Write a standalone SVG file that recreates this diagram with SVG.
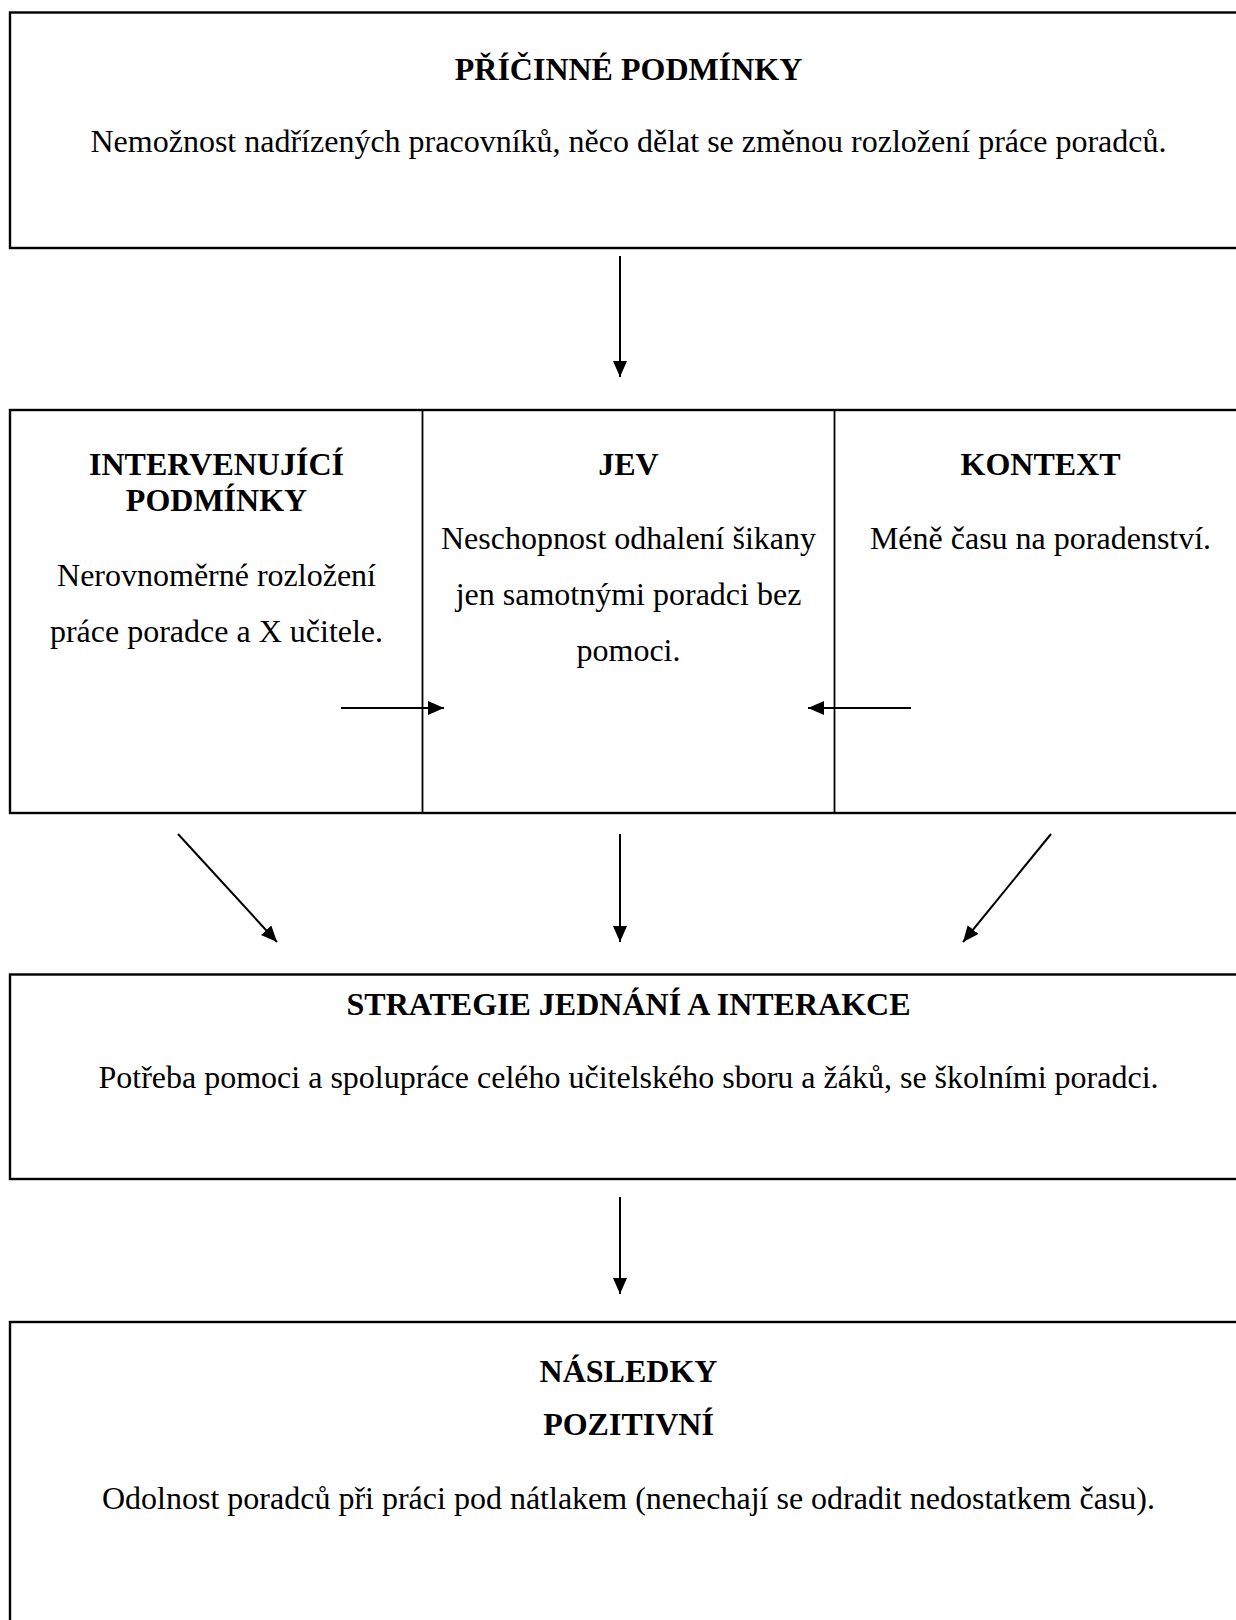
<svg xmlns="http://www.w3.org/2000/svg" width="1236" height="1620" viewBox="0 0 1236 1620">
<defs>
<style>
.box{fill:#fff;stroke:#000;stroke-width:2.4}
.div{stroke:#000;stroke-width:1.8}
.t{font-family:"Liberation Serif","Times New Roman",serif;font-size:32px;fill:#000;text-anchor:middle}
.b{font-weight:bold}
.c{stroke:#000;stroke-width:2;fill:none;marker-end:url(#ah)}
</style>
<marker id="ah" markerUnits="userSpaceOnUse" markerWidth="18" markerHeight="16" refX="16" refY="7" orient="auto">
<path d="M0,0 L16,7 L0,14 z" fill="#000"/>
</marker>
</defs>
<rect width="1236" height="1620" fill="#fff"/>
<g id="pricinne">
<rect class="box" x="10" y="12.5" width="1240" height="235.5"/>
<text class="t b" x="628.5" y="80">PŘÍČINNÉ PODMÍNKY</text>
<text class="t" x="628.5" y="152">Nemožnost nadřízených pracovníků, něco dělat se změnou rozložení práce poradců.</text>
</g>
<g id="middle">
<rect class="box" x="10" y="410" width="1240" height="403"/>
</g>
<g id="intervenujici">
<text class="t b" x="216.5" y="475">INTERVENUJÍCÍ</text>
<text class="t b" x="216.5" y="511">PODMÍNKY</text>
<text class="t" x="216.5" y="586">Nerovnoměrné rozložení</text>
<text class="t" x="216.5" y="642">práce poradce a X učitele.</text>
</g>
<g id="jev">
<line class="div" x1="422.5" y1="410" x2="422.5" y2="813"/>
<text class="t b" x="628.5" y="475">JEV</text>
<text class="t" x="628.5" y="549">Neschopnost odhalení šikany</text>
<text class="t" x="628.5" y="605">jen samotnými poradci bez</text>
<text class="t" x="628.5" y="661">pomoci.</text>
</g>
<g id="kontext">
<line class="div" x1="834.5" y1="410" x2="834.5" y2="813"/>
<text class="t b" x="1040.5" y="475">KONTEXT</text>
<text class="t" x="1040.5" y="549">Méně času na poradenství.</text>
</g>
<g id="strategie">
<rect class="box" x="10" y="974.5" width="1240" height="204.5"/>
<text class="t b" x="628.5" y="1015">STRATEGIE JEDNÁNÍ A INTERAKCE</text>
<text class="t" x="628.5" y="1088">Potřeba pomoci a spolupráce celého učitelského sboru a žáků, se školními poradci.</text>
</g>
<g id="nasledky">
<rect class="box" x="10" y="1322" width="1240" height="320"/>
<text class="t b" x="628.5" y="1382">NÁSLEDKY</text>
<text class="t b" x="628.5" y="1435">POZITIVNÍ</text>
<text class="t" x="628.5" y="1509">Odolnost poradců při práci pod nátlakem (nenechají se odradit nedostatkem času).</text>
</g>
<g id="connectors">
<line class="c" x1="620" y1="256" x2="620" y2="377"/>
<line class="c" x1="341" y1="708" x2="444" y2="708"/>
<line class="c" x1="911" y1="708" x2="808" y2="708"/>
<line class="c" x1="178" y1="834" x2="277" y2="942"/>
<line class="c" x1="620" y1="834" x2="620" y2="942"/>
<line class="c" x1="1051" y1="834" x2="963" y2="942"/>
<line class="c" x1="620" y1="1197" x2="620" y2="1294"/>
</g>
</svg>
